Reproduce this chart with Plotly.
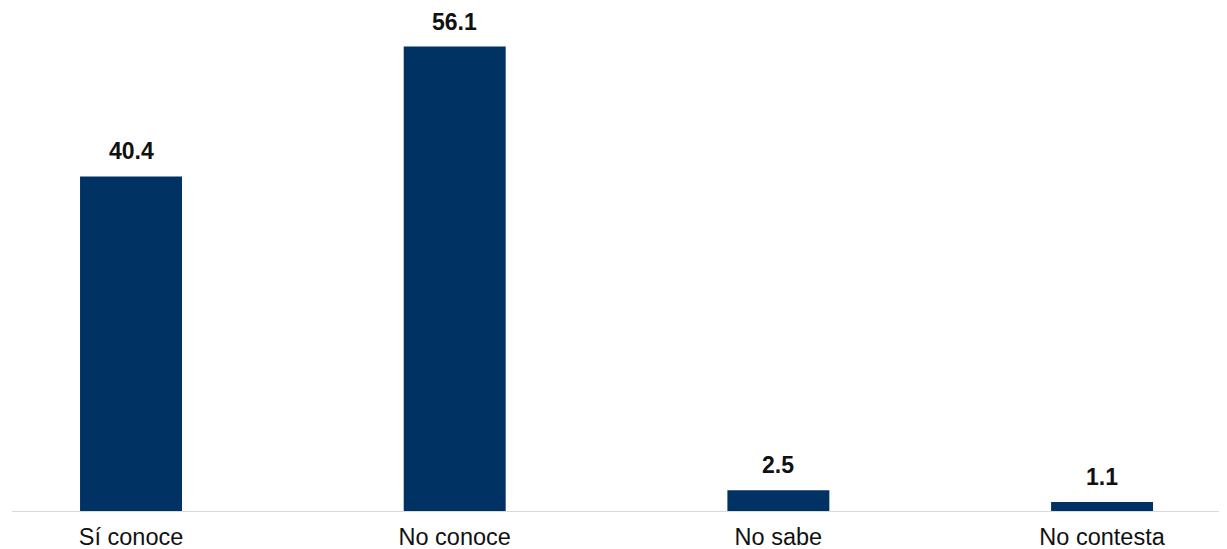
import plotly.graph_objects as go

categories = ["Sí conoce", "No conoce", "No sabe", "No contesta"]
values = [40.4, 56.1, 2.5, 1.1]
labels = ["40.4", "56.1", "2.5", "1.1"]

positions = list(range(len(categories)))
bar_color = "#003263"

fig = go.Figure()
fig.add_trace(go.Bar(
    x=positions, y=values, width=0.315,
    marker=dict(color=bar_color, line=dict(width=0)),
    hoverinfo="skip",
))
for p, v, t in zip(positions, values, labels):
    fig.add_annotation(x=p, y=v, text="<b>%s</b>" % t, showarrow=False,
                       yanchor="bottom", yshift=10,
                       font=dict(family="Liberation Sans, Arial", size=23, color="#111111"))

fig.update_layout(
    width=1219, height=541,
    margin=dict(l=4, r=0, t=0, b=38),
    plot_bgcolor="white", paper_bgcolor="white",
    showlegend=False,
    xaxis=dict(
        range=[-0.3677, 3.386], tickmode="array", tickvals=positions, ticktext=categories,
        showgrid=False, zeroline=False, showline=True, linecolor="#d9d9d9", linewidth=1,
        ticks="", ticklabelstandoff=5, automargin=False,
        tickfont=dict(family="Liberation Sans, Arial", size=23.5, color="#111111"),
    ),
    yaxis=dict(range=[0, 60.75], visible=False, showgrid=False, zeroline=False),
)
fig.write_html("out.html")
